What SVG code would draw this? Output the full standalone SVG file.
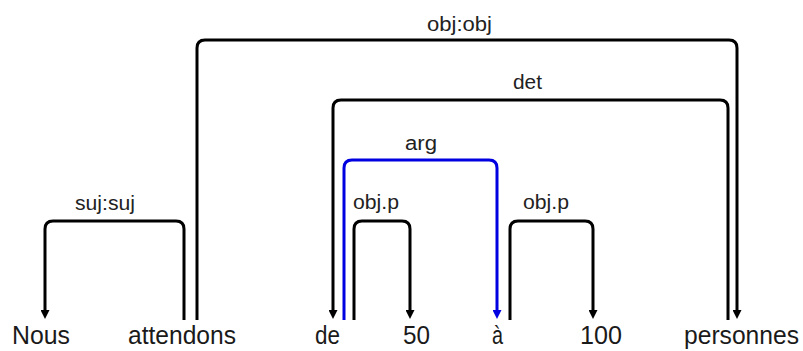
<svg xmlns="http://www.w3.org/2000/svg" width="803" height="351" viewBox="0 0 803 351">
<style>
.w{font-family:"Liberation Sans","DejaVu Sans",sans-serif;font-size:25px;fill:#1a1a1a;}
.l{font-family:"Liberation Sans","DejaVu Sans",sans-serif;font-size:20px;fill:#222;}
.e{fill:none;stroke:#000;stroke-width:3;}
.b{stroke:#0000e0;}
</style>
<defs>
<marker id="ah" viewBox="0 0 10 10" refX="0" refY="5" markerWidth="10" markerHeight="9" markerUnits="userSpaceOnUse" orient="auto"><path d="M0,0 L10,5 L0,10 z" fill="#000"/></marker>
<marker id="ahb" viewBox="0 0 10 10" refX="0" refY="5" markerWidth="10" markerHeight="9" markerUnits="userSpaceOnUse" orient="auto"><path d="M0,0 L10,5 L0,10 z" fill="#0000e0"/></marker>
</defs>
<rect width="803" height="351" fill="#fff"/>
<g id="connectors">
<g id="e-suj"><path class="e" d="M184,320 V229 Q184,221 176,221 H53 Q45,221 45,229 V310" marker-end="url(#ah)"/><text class="l" x="75" y="210" textLength="60" lengthAdjust="spacingAndGlyphs">suj:suj</text></g>
<g id="e-objobj"><path class="e" d="M197,320 V48 Q197,40 205,40 H729 Q737,40 737,48 V310" marker-end="url(#ah)"/><text class="l" x="427" y="31" textLength="65" lengthAdjust="spacingAndGlyphs">obj:obj</text></g>
<g id="e-det"><path class="e" d="M728,320 V108 Q728,100 720,100 H341 Q333,100 333,108 V310" marker-end="url(#ah)"/><text class="l" x="513" y="89" textLength="29" lengthAdjust="spacingAndGlyphs">det</text></g>
<g id="e-arg"><path class="e b" d="M344,320 V168 Q344,160 352,160 H489 Q497,160 497,168 V310" marker-end="url(#ahb)"/><text class="l" x="405" y="150" textLength="32" lengthAdjust="spacingAndGlyphs">arg</text></g>
<g id="e-objp1"><path class="e" d="M354,320 V229 Q354,221 362,221 H402 Q410,221 410,229 V310" marker-end="url(#ah)"/><text class="l" x="353" y="209" textLength="46" lengthAdjust="spacingAndGlyphs">obj.p</text></g>
<g id="e-objp2"><path class="e" d="M510,320 V229 Q510,221 518,221 H585 Q593,221 593,229 V310" marker-end="url(#ah)"/><text class="l" x="523" y="209" textLength="46" lengthAdjust="spacingAndGlyphs">obj.p</text></g>
</g>
<g id="n-nous"><text class="w" x="12" y="344" textLength="58" lengthAdjust="spacingAndGlyphs">Nous</text></g>
<g id="n-attendons"><text class="w" x="128" y="344" textLength="108" lengthAdjust="spacingAndGlyphs">attendons</text></g>
<g id="n-de"><text class="w" x="315" y="344" textLength="25" lengthAdjust="spacingAndGlyphs">de</text></g>
<g id="n-50"><text class="w" x="403" y="344" textLength="27" lengthAdjust="spacingAndGlyphs">50</text></g>
<g id="n-a"><text class="w" x="492" y="344" textLength="11" lengthAdjust="spacingAndGlyphs">à</text></g>
<g id="n-100"><text class="w" x="580" y="344" textLength="42" lengthAdjust="spacingAndGlyphs">100</text></g>
<g id="n-personnes"><text class="w" x="684" y="344" textLength="115" lengthAdjust="spacingAndGlyphs">personnes</text></g>
</svg>
